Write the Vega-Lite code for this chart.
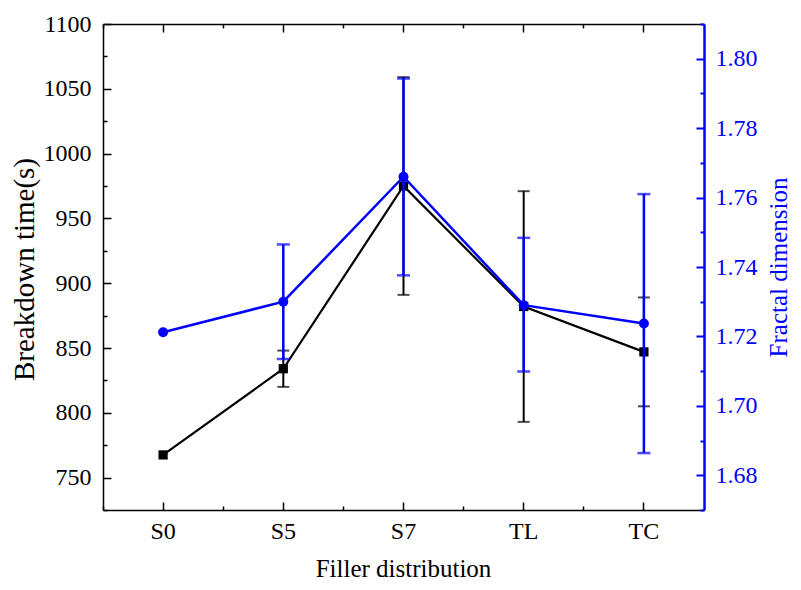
{
  "$schema": "https://vega.github.io/schema/vega-lite/v6.json",
  "width": 601,
  "height": 486,
  "autosize": "none",
  "padding": {"left": 103, "top": 24, "right": 97, "bottom": 80},
  "background": "white",
  "config": {
    "view": {"stroke": null},
    "font": "Liberation Serif",
    "axis": {"grid": false, "labelFont": "Liberation Serif", "titleFont": "Liberation Serif", "titleFontWeight": "normal"}
  },
  "data": {
    "values": [
      {"dist": "S0", "bt": 767.5, "bt_lo": null, "bt_hi": null, "fd": 1.7212, "fd_lo": null, "fd_hi": null},
      {"dist": "S5", "bt": 834, "bt_lo": 820, "bt_hi": 848, "fd": 1.730, "fd_lo": 1.7135, "fd_hi": 1.7465},
      {"dist": "S7", "bt": 975, "bt_lo": 891, "bt_hi": 1059, "fd": 1.766, "fd_lo": 1.7376, "fd_hi": 1.7943},
      {"dist": "TL", "bt": 882, "bt_lo": 793, "bt_hi": 971, "fd": 1.729, "fd_lo": 1.7099, "fd_hi": 1.7484},
      {"dist": "TC", "bt": 847, "bt_lo": 805, "bt_hi": 889, "fd": 1.7237, "fd_lo": 1.6864, "fd_hi": 1.7610}
    ]
  },
  "layer": [
    {
      "encoding": {
        "x": {
          "field": "dist", "type": "nominal", "sort": null,
          "scale": {"type": "band", "paddingInner": 0, "paddingOuter": 0},
          "axis": {
            "orient": "bottom", "bandPosition": 0.5, "labelAngle": 0,
            "tickSize": -8, "tickWidth": 1.5, "tickColor": "black",
            "domainColor": "black", "domainWidth": 1.5,
            "labelFontSize": 24, "labelColor": "black", "labelPadding": 17,
            "title": "Filler distribution", "titleFontSize": 25, "titleColor": "black",
            "titleX": 300, "titleY": 66, "titleAlign": "center", "titleBaseline": "alphabetic"
          }
        }
      },
      "layer": [
        {
          "mark": {"type": "line", "color": "black", "strokeWidth": 2.2},
          "encoding": {
            "y": {
              "field": "bt", "type": "quantitative",
              "scale": {"domain": [725, 1100], "nice": false, "zero": false},
              "axis": {
                "orient": "left",
                "values": [750, 800, 850, 900, 950, 1000, 1050, 1100],
                "format": "d",
                "tickSize": -8, "tickWidth": 1.5, "tickColor": "black",
                "domainColor": "black", "domainWidth": 1.5,
                "labelFontSize": 24, "labelColor": "black", "labelPadding": 20,
                "title": "Breakdown time(s)", "titleFontSize": 29, "titleColor": "black",
                "titleAngle": -90, "titleX": -79, "titleY": 245, "titleAlign": "center", "titleBaseline": "middle"
              }
            }
          }
        },
        {
          "transform": [{"filter": "datum.bt_lo != null"}],
          "mark": {"type": "errorbar", "color": "black", "thickness": 2, "ticks": {"size": 12, "thickness": 2, "color": "black"}},
          "encoding": {
            "y": {"field": "bt_lo", "type": "quantitative", "title": "Breakdown time(s)"},
            "y2": {"field": "bt_hi"}
          }
        },
        {
          "mark": {"type": "square", "color": "black", "opacity": 1, "size": 85},
          "encoding": {
            "y": {"field": "bt", "type": "quantitative", "title": "Breakdown time(s)"}
          }
        }
      ]
    },
    {
      "encoding": {
        "x": {"field": "dist", "type": "nominal", "sort": null, "axis": null}
      },
      "layer": [
        {
          "mark": {"type": "line", "color": "#0000ff", "strokeWidth": 2.5},
          "encoding": {
            "y": {
              "field": "fd", "type": "quantitative",
              "scale": {"domain": [1.67, 1.81], "nice": false, "zero": false},
              "axis": {
                "orient": "right",
                "values": [1.68, 1.70, 1.72, 1.74, 1.76, 1.78, 1.80],
                "format": ".2f",
                "tickSize": -8, "tickWidth": 2, "tickColor": "#0000ff",
                "domainColor": "#0000ff", "domainWidth": 2.5,
                "labelFontSize": 24, "labelColor": "#0000ff", "labelPadding": 19,
                "title": "Fractal dimension", "titleFontSize": 25, "titleColor": "#0000ff",
                "titleAngle": -90, "titleX": 74, "titleY": 243, "titleAlign": "center", "titleBaseline": "middle"
              }
            }
          }
        },
        {
          "transform": [{"filter": "datum.fd_lo != null"}],
          "mark": {"type": "errorbar", "color": "#0000ff", "thickness": 2.5, "ticks": {"size": 13, "thickness": 2.5, "color": "#0000ff"}},
          "encoding": {
            "y": {"field": "fd_lo", "type": "quantitative", "title": "Fractal dimension"},
            "y2": {"field": "fd_hi"}
          }
        },
        {
          "mark": {"type": "circle", "color": "#0000ff", "opacity": 1, "size": 100},
          "encoding": {
            "y": {"field": "fd", "type": "quantitative", "title": "Fractal dimension"}
          }
        }
      ]
    },
    {
      "mark": {"type": "rule", "opacity": 0},
      "encoding": {
        "y": {
          "field": "bt", "type": "quantitative",
          "scale": {"domain": [725, 1100], "nice": false, "zero": false},
          "axis": {"orient": "left", "values": [725, 775, 825, 875, 925, 975, 1025, 1075], "tickSize": -4, "tickWidth": 1.5, "tickColor": "black", "domain": false, "labels": false, "title": null}
        }
      }
    },
    {
      "mark": {"type": "rule", "opacity": 0},
      "encoding": {
        "y": {
          "field": "fd", "type": "quantitative",
          "scale": {"domain": [1.67, 1.81], "nice": false, "zero": false},
          "axis": {"orient": "right", "values": [1.67, 1.69, 1.71, 1.73, 1.75, 1.77, 1.79, 1.81], "tickSize": -4, "tickWidth": 2, "tickColor": "#0000ff", "domain": false, "labels": false, "title": null}
        }
      }
    },
    {
      "mark": {"type": "rule", "opacity": 0},
      "encoding": {
        "x": {
          "field": "dist", "type": "nominal", "sort": null,
          "axis": {"orient": "bottom", "bandPosition": 0, "tickSize": -4, "tickWidth": 1.5, "tickColor": "black", "domain": false, "labels": false, "title": null}
        }
      }
    },
    {
      "mark": {"type": "rule", "opacity": 0},
      "encoding": {
        "x": {
          "field": "dist", "type": "nominal", "sort": null,
          "axis": {"orient": "top", "bandPosition": 0.5, "tickSize": -8, "tickWidth": 1.5, "tickColor": "black", "domainColor": "black", "domainWidth": 1.5, "labels": false, "title": null}
        }
      }
    },
    {
      "mark": {"type": "rule", "opacity": 0},
      "encoding": {
        "x": {
          "field": "dist", "type": "nominal", "sort": null,
          "axis": {"orient": "top", "bandPosition": 0, "tickSize": -4, "tickWidth": 1.5, "tickColor": "black", "domain": false, "labels": false, "title": null}
        }
      }
    }
  ],
  "resolve": {"scale": {"y": "independent"}, "axis": {"x": "independent", "y": "independent"}}
}
